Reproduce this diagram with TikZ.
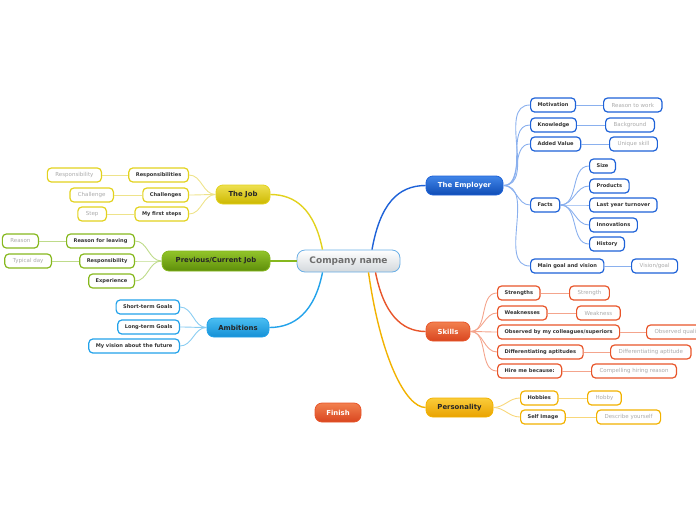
\documentclass[tikz,border=0pt]{standalone}
\usepackage{fontspec}
\setmainfont{DejaVu Sans}
\definecolor{empB}{HTML}{1E62D8}\definecolor{empL}{HTML}{8AB0EE}\definecolor{empT}{HTML}{4085E8}\definecolor{empD}{HTML}{0F4CB5}
\definecolor{skB}{HTML}{E8552A}\definecolor{skL}{HTML}{F4A48C}\definecolor{skT}{HTML}{F2804F}\definecolor{skD}{HTML}{D9461F}
\definecolor{peB}{HTML}{F2B200}\definecolor{peL}{HTML}{F8D77A}\definecolor{peT}{HTML}{FACC3A}\definecolor{peD}{HTML}{E9A200}
\definecolor{jbB}{HTML}{E2D21E}\definecolor{jbL}{HTML}{EEE38A}\definecolor{jbT}{HTML}{EEE050}\definecolor{jbD}{HTML}{CDB800}
\definecolor{prB}{HTML}{86B81E}\definecolor{prL}{HTML}{BEDB8A}\definecolor{prT}{HTML}{92C42A}\definecolor{prD}{HTML}{5E8E0A}
\definecolor{amB}{HTML}{22A2EA}\definecolor{amL}{HTML}{8ACDF2}\definecolor{amT}{HTML}{4ABEF2}\definecolor{amD}{HTML}{1590D6}
\definecolor{ceB}{HTML}{6AAFE6}\definecolor{ceD}{HTML}{D3D8DC}\definecolor{ceTx}{HTML}{6E6E6E}
\definecolor{chTx}{HTML}{333333}\definecolor{gcTx}{HTML}{ABABAB}
\begin{document}
\begin{tikzpicture}[x=1pt,y=-1pt,
  mainbox/.style n args={4}{rounded corners=7pt, draw=#1, line width=0.8pt, top color=#2, bottom color=#3, text=#4,
    font=\bfseries\fontsize{6.9}{8}\selectfont, minimum height=19pt, inner xsep=2pt, inner ysep=0pt},
  childbox/.style={rounded corners=4pt, draw=#1, line width=1.2pt, fill=white, text=chTx,
    font=\bfseries\fontsize{5.1}{6}\selectfont, minimum height=14pt, inner xsep=7pt, inner ysep=0pt},
  gcbox/.style={rounded corners=4pt, draw=#1, line width=1.2pt, fill=white, text=gcTx,
    font=\fontsize{5.5}{6.5}\selectfont, minimum height=14pt, inner xsep=8pt, inner ysep=0pt},
  mainline/.style={draw=#1, line width=1.4pt},
  subline/.style={draw=#1, line width=0.9pt},
]
\useasboundingbox (0,0) rectangle (696,520);

% ---------- main nodes ----------
\node[mainbox={ceB}{white}{ceD}{ceTx}, font=\bfseries\fontsize{9}{11}\selectfont, minimum width=103pt, minimum height=22pt, rounded corners=8pt] (ctr) at (348.5,261) {Company name};
\node[mainbox={empB}{empT}{empD}{white}, minimum width=77pt] (emp) at (464.5,185.5) {The Employer};
\node[mainbox={skB}{skT}{skD}{white}, minimum width=44pt] (sk) at (448,331.5) {Skills};
\node[mainbox={peB}{peT}{peD}{black!85}, minimum width=67pt] (pe) at (459.5,407.5) {Personality};
\node[mainbox={jbB}{jbT}{jbD}{black!85}, minimum width=54pt] (jb) at (243,194.5) {The Job};
\node[mainbox={prB}{prT}{prD}{black!85}, minimum width=108pt, minimum height=20pt] (pr) at (216,261) {Previous/Current Job};
\node[mainbox={amB}{amT}{amD}{black!85}, minimum width=62pt] (am) at (238,327.5) {Ambitions};
\node[mainbox={skB}{skT}{skD}{white}, minimum width=46pt] (fin) at (338,412.5) {Finish};

% ---------- main connectors ----------
\draw[mainline=empB] ([xshift=23.5pt]ctr.north) .. controls +(8,-45) and +(-28,0) .. (emp.west);
\draw[mainline=jbB] ([xshift=-26pt]ctr.north) .. controls +(-8,-40) and +(25,0) .. (jb.east);
\draw[mainline=prB] (ctr.west) -- (pr.east);
\draw[mainline=amB] ([xshift=-26pt]ctr.south) .. controls +(-8,40) and +(25,0) .. (am.east);
\draw[mainline=skB] ([xshift=27pt]ctr.south) .. controls +(8,40) and +(-25,0) .. (sk.west);
\draw[mainline=peB] ([xshift=20pt]ctr.south) .. controls +(12,85) and +(-20,0) .. (pe.west);

% ---------- The Employer ----------
\node[childbox=empB, anchor=west] (mot) at (530,105) {Motivation};
\node[gcbox=empB, anchor=west] (rtw) at (603,105) {Reason to work};
\node[childbox=empB, anchor=west] (kno) at (530,125) {Knowledge};
\node[gcbox=empB, anchor=west] (bgd) at (605,125) {Background};
\node[childbox=empB, anchor=west] (adv) at (530,144) {Added Value};
\node[gcbox=empB, anchor=west] (usk) at (609,144) {Unique skill};
\node[childbox=empB, anchor=west] (fac) at (530,205) {Facts};
\node[childbox=empB, anchor=west] (siz) at (589,166) {Size};
\node[childbox=empB, anchor=west] (pro) at (589,186) {Products};
\node[childbox=empB, anchor=west] (lyt) at (589,205) {Last year turnover};
\node[childbox=empB, anchor=west] (inn) at (589,225) {Innovations};
\node[childbox=empB, anchor=west] (his) at (589,244) {History};
\node[childbox=empB, anchor=west] (mgv) at (530,266) {Main goal and vision};
\node[gcbox=empB, anchor=west] (vgl) at (631,266) {Vision/goal};
\foreach \c in {mot,kno,adv,fac,mgv} \draw[subline=empL] (emp.east) to[out=0,in=180] (\c.west);
\foreach \c in {siz,pro,lyt,inn,his} \draw[subline=empL] (fac.east) to[out=0,in=180] (\c.west);
\draw[subline=empL] (mot.east) -- (rtw.west);
\draw[subline=empL] (kno.east) -- (bgd.west);
\draw[subline=empL] (adv.east) -- (usk.west);
\draw[subline=empL] (mgv.east) -- (vgl.west);

% ---------- Skills ----------
\node[childbox=skB, anchor=west] (str) at (497,293) {Strengths};
\node[gcbox=skB, anchor=west] (stg) at (569,293) {Strength};
\node[childbox=skB, anchor=west] (wea) at (497,313) {Weaknesses};
\node[gcbox=skB, anchor=west] (wns) at (576,313) {Weakness};
\node[childbox=skB, anchor=west] (obs) at (497,332) {Observed by my colleagues/superiors};
\node[gcbox=skB, anchor=west] (obq) at (646,332) {Observed qualities};
\node[childbox=skB, anchor=west] (dif) at (497,352) {Differentiating aptitudes};
\node[gcbox=skB, anchor=west] (dfa) at (610,352) {Differentiating aptitude};
\node[childbox=skB, anchor=west] (hir) at (497,371) {Hire me because:};
\node[gcbox=skB, anchor=west] (chr) at (591,371) {Compelling hiring reason};
\foreach \c in {str,wea,obs,dif,hir} \draw[subline=skL] (sk.east) to[out=0,in=180] (\c.west);
\draw[subline=skL] (str.east) -- (stg.west);
\draw[subline=skL] (wea.east) -- (wns.west);
\draw[subline=skL] (obs.east) -- (obq.west);
\draw[subline=skL] (dif.east) -- (dfa.west);
\draw[subline=skL] (hir.east) -- (chr.west);

% ---------- Personality ----------
\node[childbox=peB, anchor=west] (hob) at (520,398) {Hobbies};
\node[gcbox=peB, anchor=west] (hby) at (587,398) {Hobby};
\node[childbox=peB, anchor=west] (sim) at (520,417) {Self Image};
\node[gcbox=peB, anchor=west] (dsc) at (596,417) {Describe yourself};
\foreach \c in {hob,sim} \draw[subline=peL] (pe.east) to[out=0,in=180] (\c.west);
\draw[subline=peL] (hob.east) -- (hby.west);
\draw[subline=peL] (sim.east) -- (dsc.west);

% ---------- The Job ----------
\node[childbox=jbB, anchor=east] (rsp) at (189,175) {Responsibilities};
\node[gcbox=jbB, anchor=east] (rsy) at (102,175) {Responsibility};
\node[childbox=jbB, anchor=east] (chl) at (189,195) {Challenges};
\node[gcbox=jbB, anchor=east] (chg) at (114,195) {Challenge};
\node[childbox=jbB, anchor=east] (mfs) at (189,214) {My first steps};
\node[gcbox=jbB, anchor=east] (stp) at (107,214) {Step};
\foreach \c in {rsp,chl,mfs} \draw[subline=jbL] (jb.west) to[out=180,in=0] (\c.east);
\draw[subline=jbL] (rsp.west) -- (rsy.east);
\draw[subline=jbL] (chl.west) -- (chg.east);
\draw[subline=jbL] (mfs.west) -- (stp.east);

% ---------- Previous/Current Job ----------
\node[childbox=prB, anchor=east] (rfl) at (135,241) {Reason for leaving};
\node[gcbox=prB, anchor=east] (rsn) at (39,241) {Reason};
\node[childbox=prB, anchor=east] (rs2) at (135,261) {Responsibility};
\node[gcbox=prB, anchor=east] (tyd) at (52,261) {Typical day};
\node[childbox=prB, anchor=east] (exp) at (135,281) {Experience};
\foreach \c in {rfl,rs2,exp} \draw[subline=prL] (pr.west) to[out=180,in=0] (\c.east);
\draw[subline=prL] (rfl.west) -- (rsn.east);
\draw[subline=prL] (rs2.west) -- (tyd.east);

% ---------- Ambitions ----------
\node[childbox=amB, anchor=east] (stgl) at (180,307) {Short-term Goals};
\node[childbox=amB, anchor=east] (ltgl) at (180,327) {Long-term Goals};
\node[childbox=amB, anchor=east] (vis) at (180,346) {My vision about the future};
\foreach \c in {stgl,ltgl,vis} \draw[subline=amL] (am.west) to[out=180,in=0] (\c.east);
\end{tikzpicture}
\end{document}
